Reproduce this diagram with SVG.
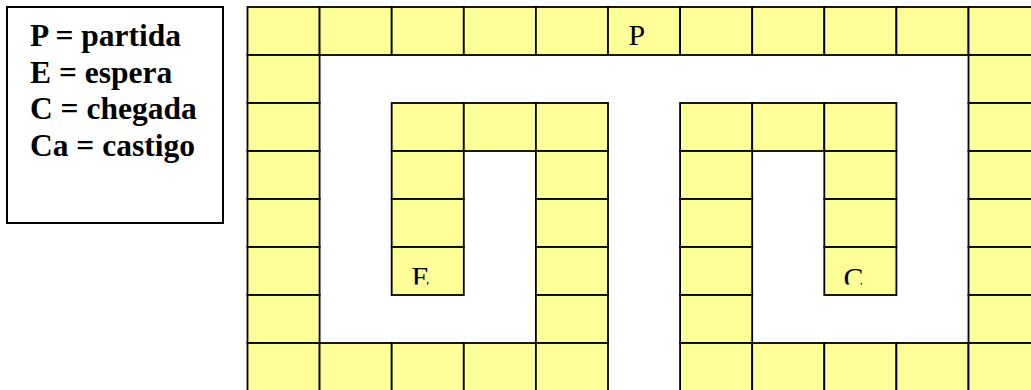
<svg xmlns="http://www.w3.org/2000/svg" width="1031" height="390" viewBox="0 0 1031 390">
<style>
.c{fill:#FFFF99;stroke:#000;stroke-width:1.8}
.lg{font-family:"Liberation Serif","Times New Roman",serif;font-weight:bold;font-size:31.5px;fill:#000}
.t{font-family:"Liberation Serif","Times New Roman",serif;font-size:30px;fill:#000}
</style>
<defs>
<clipPath id="clipE"><rect x="391" y="247" width="73" height="37.5"/></clipPath>
<clipPath id="clipC"><rect x="824" y="247" width="73" height="37.5"/></clipPath>
</defs>
<rect width="1031" height="390" fill="#fff"/>
<g id="legend">
<rect x="7" y="7" width="216" height="216" fill="#fff" stroke="#000" stroke-width="2"/>
<text class="lg" x="30" y="46">P = partida</text>
<text class="lg" x="30" y="82.5">E = espera</text>
<text class="lg" x="30" y="119">C = chegada</text>
<text class="lg" x="30" y="155.5">Ca = castigo</text>
</g>
<g id="board">
<g id="row0">
<rect class="c" x="247.5" y="7" width="72.1" height="48"/>
<rect class="c" x="319.6" y="7" width="72.1" height="48"/>
<rect class="c" x="391.7" y="7" width="72.1" height="48"/>
<rect class="c" x="463.8" y="7" width="72.1" height="48"/>
<rect class="c" x="535.9" y="7" width="72.1" height="48"/>
<g id="cellP"><rect class="c" x="608" y="7" width="72.1" height="48"/><text class="t" x="628.5" y="45">P</text></g>
<rect class="c" x="680.1" y="7" width="72.1" height="48"/>
<rect class="c" x="752.2" y="7" width="72.1" height="48"/>
<rect class="c" x="824.3" y="7" width="72.1" height="48"/>
<rect class="c" x="896.4" y="7" width="72.1" height="48"/>
<rect class="c" x="968.5" y="7" width="72.1" height="48"/>
</g>
<g id="row1">
<rect class="c" x="247.5" y="55" width="72.1" height="48"/>
<rect class="c" x="968.5" y="55" width="72.1" height="48"/>
</g>
<g id="row2">
<rect class="c" x="247.5" y="103" width="72.1" height="48"/>
<rect class="c" x="391.7" y="103" width="72.1" height="48"/>
<rect class="c" x="463.8" y="103" width="72.1" height="48"/>
<rect class="c" x="535.9" y="103" width="72.1" height="48"/>
<rect class="c" x="680.1" y="103" width="72.1" height="48"/>
<rect class="c" x="752.2" y="103" width="72.1" height="48"/>
<rect class="c" x="824.3" y="103" width="72.1" height="48"/>
<rect class="c" x="968.5" y="103" width="72.1" height="48"/>
</g>
<g id="row3">
<rect class="c" x="247.5" y="151" width="72.1" height="48"/>
<rect class="c" x="391.7" y="151" width="72.1" height="48"/>
<rect class="c" x="535.9" y="151" width="72.1" height="48"/>
<rect class="c" x="680.1" y="151" width="72.1" height="48"/>
<rect class="c" x="824.3" y="151" width="72.1" height="48"/>
<rect class="c" x="968.5" y="151" width="72.1" height="48"/>
</g>
<g id="row4">
<rect class="c" x="247.5" y="199" width="72.1" height="48"/>
<rect class="c" x="391.7" y="199" width="72.1" height="48"/>
<rect class="c" x="535.9" y="199" width="72.1" height="48"/>
<rect class="c" x="680.1" y="199" width="72.1" height="48"/>
<rect class="c" x="824.3" y="199" width="72.1" height="48"/>
<rect class="c" x="968.5" y="199" width="72.1" height="48"/>
</g>
<g id="row5">
<rect class="c" x="247.5" y="247" width="72.1" height="48"/>
<g id="cellE"><rect class="c" x="391.7" y="247" width="72.1" height="48"/><text class="t" x="411.5" y="286.5" clip-path="url(#clipE)">E</text></g>
<rect class="c" x="535.9" y="247" width="72.1" height="48"/>
<rect class="c" x="680.1" y="247" width="72.1" height="48"/>
<g id="cellC"><rect class="c" x="824.3" y="247" width="72.1" height="48"/><text class="t" x="843.5" y="287.5" clip-path="url(#clipC)">C</text></g>
<rect class="c" x="968.5" y="247" width="72.1" height="48"/>
</g>
<g id="row6">
<rect class="c" x="247.5" y="295" width="72.1" height="48"/>
<rect class="c" x="535.9" y="295" width="72.1" height="48"/>
<rect class="c" x="680.1" y="295" width="72.1" height="48"/>
<rect class="c" x="968.5" y="295" width="72.1" height="48"/>
</g>
<g id="row7">
<rect class="c" x="247.5" y="343" width="72.1" height="48"/>
<rect class="c" x="319.6" y="343" width="72.1" height="48"/>
<rect class="c" x="391.7" y="343" width="72.1" height="48"/>
<rect class="c" x="463.8" y="343" width="72.1" height="48"/>
<rect class="c" x="535.9" y="343" width="72.1" height="48"/>
<rect class="c" x="680.1" y="343" width="72.1" height="48"/>
<rect class="c" x="752.2" y="343" width="72.1" height="48"/>
<rect class="c" x="824.3" y="343" width="72.1" height="48"/>
<rect class="c" x="896.4" y="343" width="72.1" height="48"/>
<rect class="c" x="968.5" y="343" width="72.1" height="48"/>
</g>
</g>
<g id="connectors"></g>
</svg>
